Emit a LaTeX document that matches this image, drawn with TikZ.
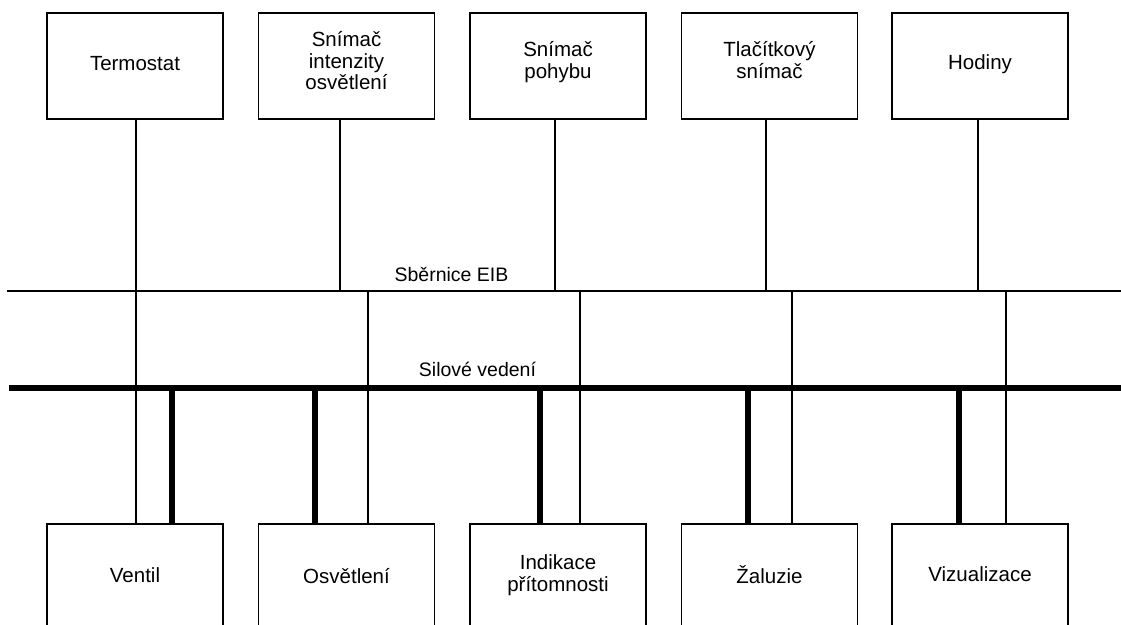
\documentclass[tikz,border=0pt]{standalone}
\usepackage{fontspec}
\setmainfont{Liberation Sans}
\begin{document}
\begin{tikzpicture}[x=1pt,y=-1pt,
  dev/.style={draw=black,line width=1.6pt,minimum width=176pt,minimum height=106pt,inner sep=0pt,fill=white},
  lbl/.style={align=center,inner sep=0pt,font=\fontsize{20.5}{21.5}\selectfont},
  buslbl/.style={inner sep=0pt,font=\fontsize{19.5}{22}\selectfont},
  eib/.style={line width=2pt},
  power/.style={line width=6pt},
  thin/.style={line width=2pt},
  thick/.style={line width=6pt}]
\useasboundingbox (0,0) rectangle (1121,624);
\clip (0,0) rectangle (1121,624);
% buses
\coordinate (eibL) at (7,291);
\coordinate (eibR) at (1125,291);
\coordinate (powL) at (9,388);
\coordinate (powR) at (1125,388);
\draw[eib] (eibL) -- (eibR);
\draw[power] (powL) -- (powR);
\node[buslbl] (eiblbl) at (451.5,274) {Sběrnice EIB};
\node[buslbl] (powlbl) at (477.5,369) {Silové vedení};
% top devices
\node[dev] (t1) at (135,66) {};
\node[dev] (t2) at (346.5,66) {};
\node[dev] (t3) at (558,66) {};
\node[dev] (t4) at (769.5,66) {};
\node[dev] (t5) at (980,66) {};
\node[lbl] (t1l) at (135,64) {Termostat};
\node[lbl] (t2l) at (346.5,61) {Snímač\\intenzity\\osvětlení};
\node[lbl] (t3l) at (558,62) {Snímač\\pohybu};
\node[lbl] (t4l) at (769.5,60) {Tlačítkový\\snímač};
\node[lbl] (t5l) at (980,64) {Hodiny};
% bottom devices
\node[dev] (b1) at (135,577) {};
\node[dev] (b2) at (346.5,577) {};
\node[dev] (b3) at (558,577) {};
\node[dev] (b4) at (769.5,577) {};
\node[dev] (b5) at (980,577) {};
\node[lbl] (b1l) at (135,575) {Ventil};
\node[lbl] (b2l) at (346.5,576) {Osvětlení};
\node[lbl] (b3l) at (558,575) {Indikace\\přítomnosti};
\node[lbl] (b4l) at (769.5,575) {Žaluzie};
\node[lbl] (b5l) at (980,574) {Vizualizace};
% bus taps
\coordinate (e1) at (136,291);
\coordinate (e2) at (340,291);
\coordinate (e2d) at (368,291);
\coordinate (e3) at (555,291);
\coordinate (e3d) at (580,291);
\coordinate (e4) at (766,291);
\coordinate (e4d) at (792,291);
\coordinate (e5) at (978,291);
\coordinate (e5d) at (1006,291);
\coordinate (p1) at (172,388);
\coordinate (p2) at (315,388);
\coordinate (p3) at (540,388);
\coordinate (p4) at (748,388);
\coordinate (p5) at (959,388);
% thin EIB connections
\draw[thin] (t1.south -| e1) -- (b1.north -| e1);
\draw[thin] (t2.south -| e2) -- (e2);
\draw[thin] (e2d) -- (b2.north -| e2d);
\draw[thin] (t3.south -| e3) -- (e3);
\draw[thin] (e3d) -- (b3.north -| e3d);
\draw[thin] (t4.south -| e4) -- (e4);
\draw[thin] (e4d) -- (b4.north -| e4d);
\draw[thin] (t5.south -| e5) -- (e5);
\draw[thin] (e5d) -- (b5.north -| e5d);
% thick power connections
\draw[thick] (p1) -- (b1.north -| p1);
\draw[thick] (p2) -- (b2.north -| p2);
\draw[thick] (p3) -- (b3.north -| p3);
\draw[thick] (p4) -- (b4.north -| p4);
\draw[thick] (p5) -- (b5.north -| p5);
\end{tikzpicture}
\end{document}
